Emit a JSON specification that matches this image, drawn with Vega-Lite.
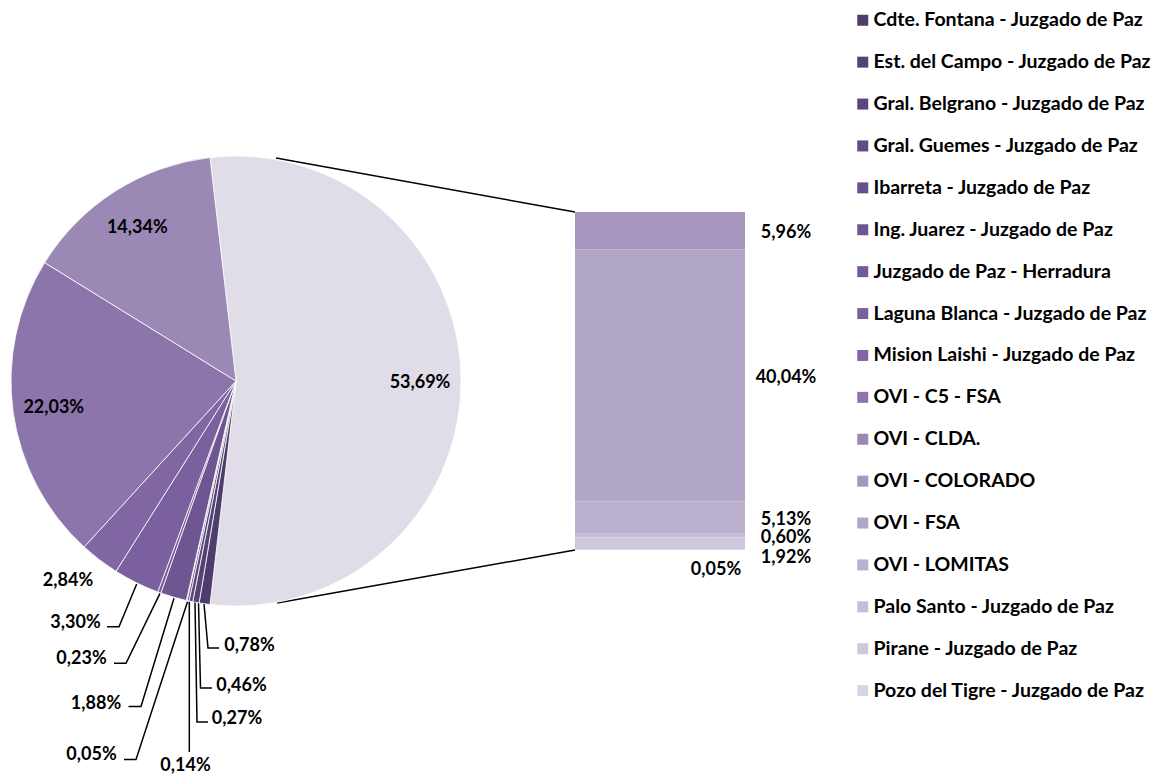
{
  "$schema": "https://vega.github.io/schema/vega-lite/v6.json",
  "width": 1168,
  "height": 775,
  "padding": 0,
  "autosize": {"type": "none"},
  "background": "white",
  "config": {
    "view": {"stroke": null},
    "locale": {"number": {"decimal": ",", "thousands": ".", "grouping": [3], "currency": ["", "%"]}},
    "text": {"font": "Lato", "fontWeight": "bold", "fontSize": 18, "color": "black", "dy": 2}
  },
  "datasets": {
    "pie": [
      {"name": "Otros", "pct": 53.69, "idx": 0},
      {"name": "Cdte. Fontana - Juzgado de Paz", "pct": 0.78, "idx": 1},
      {"name": "Est. del Campo - Juzgado de Paz", "pct": 0.46, "idx": 2},
      {"name": "Gral. Belgrano - Juzgado de Paz", "pct": 0.27, "idx": 3},
      {"name": "Gral. Guemes - Juzgado de Paz", "pct": 0.14, "idx": 4},
      {"name": "Ibarreta - Juzgado de Paz", "pct": 0.05, "idx": 5},
      {"name": "Ing. Juarez - Juzgado de Paz", "pct": 1.88, "idx": 6},
      {"name": "Juzgado de Paz - Herradura", "pct": 0.23, "idx": 7},
      {"name": "Laguna Blanca - Juzgado de Paz", "pct": 3.30, "idx": 8},
      {"name": "Mision Laishi - Juzgado de Paz", "pct": 2.84, "idx": 9},
      {"name": "OVI - C5 - FSA", "pct": 22.03, "idx": 10},
      {"name": "OVI - CLDA.", "pct": 14.34, "idx": 11}
    ],
    "bar": [
      {"name": "OVI - COLORADO", "pct": 5.96, "idx": 12},
      {"name": "OVI - FSA", "pct": 40.04, "idx": 13},
      {"name": "OVI - LOMITAS", "pct": 5.13, "idx": 14},
      {"name": "Palo Santo - Juzgado de Paz", "pct": 0.60, "idx": 15},
      {"name": "Pirane - Juzgado de Paz", "pct": 1.92, "idx": 16},
      {"name": "Pozo del Tigre - Juzgado de Paz", "pct": 0.05, "idx": 17}
    ],
    "callouts": [
      {"name": "Mision Laishi - Juzgado de Paz", "tx": 68, "ty": 579},
      {"name": "Laguna Blanca - Juzgado de Paz", "tx": 75.5, "ty": 620.5},
      {"name": "Juzgado de Paz - Herradura", "tx": 81.5, "ty": 656.5},
      {"name": "Ing. Juarez - Juzgado de Paz", "tx": 96, "ty": 701.5},
      {"name": "Ibarreta - Juzgado de Paz", "tx": 91.5, "ty": 753},
      {"name": "Gral. Guemes - Juzgado de Paz", "tx": 185.5, "ty": 764},
      {"name": "Gral. Belgrano - Juzgado de Paz", "tx": 237, "ty": 716.5},
      {"name": "Est. del Campo - Juzgado de Paz", "tx": 241.5, "ty": 684},
      {"name": "Cdte. Fontana - Juzgado de Paz", "tx": 249.5, "ty": 644}
    ],
    "leaders": [
      {"name": "Laguna Blanca", "seq": 1, "px": 136.7, "py": 584},
      {"name": "Laguna Blanca", "seq": 2, "px": 119, "py": 626.7},
      {"name": "Laguna Blanca", "seq": 3, "px": 107, "py": 626.7},
      {"name": "Herradura", "seq": 1, "px": 160, "py": 593.3},
      {"name": "Herradura", "seq": 2, "px": 126, "py": 663.3},
      {"name": "Herradura", "seq": 3, "px": 114, "py": 663.3},
      {"name": "Ing. Juarez", "seq": 1, "px": 174, "py": 598.3},
      {"name": "Ing. Juarez", "seq": 2, "px": 141, "py": 706.5},
      {"name": "Ing. Juarez", "seq": 3, "px": 128.5, "py": 706.5},
      {"name": "Ibarreta", "seq": 1, "px": 187.5, "py": 601.7},
      {"name": "Ibarreta", "seq": 2, "px": 136, "py": 759.5},
      {"name": "Ibarreta", "seq": 3, "px": 124, "py": 759.5},
      {"name": "Gral. Guemes", "seq": 1, "px": 189.3, "py": 601.7},
      {"name": "Gral. Guemes", "seq": 2, "px": 189.3, "py": 752},
      {"name": "Gral. Belgrano", "seq": 1, "px": 195, "py": 602},
      {"name": "Gral. Belgrano", "seq": 2, "px": 197, "py": 722},
      {"name": "Gral. Belgrano", "seq": 3, "px": 208, "py": 722},
      {"name": "Est. del Campo", "seq": 1, "px": 198.5, "py": 602.7},
      {"name": "Est. del Campo", "seq": 2, "px": 200.5, "py": 688},
      {"name": "Est. del Campo", "seq": 3, "px": 212, "py": 688},
      {"name": "Cdte. Fontana", "seq": 1, "px": 204, "py": 604},
      {"name": "Cdte. Fontana", "seq": 2, "px": 208, "py": 648},
      {"name": "Cdte. Fontana", "seq": 3, "px": 219, "py": 648}
    ],
    "connectors": [
      {"x0": 276, "y0": 158, "x1": 575, "y1": 212},
      {"x0": 277, "y0": 603, "x1": 575, "y1": 550}
    ]
  },
  "resolve": {"scale": {"y": "independent"}},
  "layer": [
    {
      "layer": [
        {
          "data": {"name": "connectors"},
          "mark": {"type": "rule", "color": "black", "strokeWidth": 1.5},
          "encoding": {
            "x": {"field": "x0", "type": "quantitative", "scale": {"domain": [0, 1168], "nice": false, "zero": false}, "axis": null},
            "y": {"field": "y0", "type": "quantitative", "scale": {"domain": [0, 775], "nice": false, "zero": false, "reverse": true}, "axis": null},
            "x2": {"field": "x1"},
            "y2": {"field": "y1"}
          }
        },
        {
          "data": {"name": "leaders"},
          "mark": {"type": "line", "color": "black", "strokeWidth": 1.5},
          "encoding": {
            "x": {"field": "px", "type": "quantitative", "axis": null},
            "y": {"field": "py", "type": "quantitative", "axis": null},
            "detail": {"field": "name", "type": "nominal"},
            "order": {"field": "seq", "type": "quantitative"}
          }
        },
        {
          "data": {"name": "pie"},
          "layer": [
            {
              "mark": {"type": "arc", "radius": 225, "stroke": "white", "strokeWidth": 0.8},
              "encoding": {
                "x": {"datum": 236, "type": "quantitative", "axis": null},
                "y": {"datum": 381, "type": "quantitative", "axis": null},
                "theta": {"field": "pct", "type": "quantitative", "stack": true, "scale": {"range": [-0.11577, 6.16742]}},
                "order": {"field": "idx", "type": "quantitative"},
                "color": {
                  "condition": {"test": "datum.name === 'Otros'", "value": "#e1dde8"},
                  "field": "name",
                  "type": "nominal",
                  "scale": {
                    "domain": ["Cdte. Fontana - Juzgado de Paz", "Est. del Campo - Juzgado de Paz", "Gral. Belgrano - Juzgado de Paz", "Gral. Guemes - Juzgado de Paz", "Ibarreta - Juzgado de Paz", "Ing. Juarez - Juzgado de Paz", "Juzgado de Paz - Herradura", "Laguna Blanca - Juzgado de Paz", "Mision Laishi - Juzgado de Paz", "OVI - C5 - FSA", "OVI - CLDA.", "OVI - COLORADO", "OVI - FSA", "OVI - LOMITAS", "Palo Santo - Juzgado de Paz", "Pirane - Juzgado de Paz", "Pozo del Tigre - Juzgado de Paz"],
                    "range": ["#4e3d6c", "#554275", "#5b477d", "#614c85", "#67518c", "#6d5692", "#735b98", "#7a609e", "#8166a4", "#8b75ab", "#9a88b5", "#a797bf", "#b1a6c5", "#bbb0cd", "#c5bdd6", "#cfc8dd", "#d9d4e4"]
                  },
                  "legend": {
                    "orient": "none", "legendX": 853, "legendY": 10.5, "title": null, "padding": 0,
                    "symbolType": "square", "symbolSize": 121, "symbolStrokeWidth": 0,
                    "labelFont": "Lato", "labelFontWeight": "bold", "labelFontSize": 19.5, "labelColor": "black",
                    "labelLimit": 400, "labelOffset": 1, "rowPadding": 20.9
                  }
                }
              }
            },
            {
              "mark": {"type": "text", "radius": 184},
              "encoding": {
                "x": {"datum": 236, "type": "quantitative", "axis": null},
                "y": {"datum": 381, "type": "quantitative", "axis": null},
                "theta": {"field": "pct", "type": "quantitative", "stack": true},
                "order": {"field": "idx", "type": "quantitative"},
                "text": {"condition": {"test": "datum.pct > 10", "field": "pct", "type": "quantitative", "format": "$.2f"}, "value": ""}
              }
            }
          ]
        },
        {
          "data": {"name": "callouts"},
          "transform": [{"lookup": "name", "from": {"data": {"name": "pie"}, "key": "name", "fields": ["pct"]}}],
          "mark": {"type": "text"},
          "encoding": {
            "x": {"field": "tx", "type": "quantitative", "axis": null},
            "y": {"field": "ty", "type": "quantitative", "axis": null},
            "text": {"field": "pct", "type": "quantitative", "format": "$.2f"}
          }
        }
      ]
    },
    {
      "data": {"name": "bar"},
      "layer": [
        {
          "transform": [{"stack": "pct", "groupby": [], "sort": [{"field": "idx", "order": "descending"}], "as": ["y0", "y1"]}],
          "mark": {"type": "rect"},
          "encoding": {
            "x": {"datum": 575, "type": "quantitative", "axis": null},
            "x2": {"datum": 745},
            "y": {"field": "y0", "type": "quantitative", "scale": {"domain": [0, 53.7], "range": [550, 212], "nice": false, "zero": false}, "axis": null},
            "y2": {"field": "y1"},
            "color": {"field": "name", "type": "nominal"}
          }
        },
        {
          "mark": {"type": "text", "dy": 2},
          "encoding": {
            "x": {"datum": 786, "type": "quantitative", "axis": null},
            "y": {"field": "pct", "type": "quantitative", "stack": "zero", "bandPosition": 0.5, "axis": null},
            "order": {"field": "idx", "type": "quantitative", "sort": "descending"},
            "text": {"condition": {"test": "datum.pct > 0.5 && datum.idx != 16", "field": "pct", "type": "quantitative", "format": "$.2f"}, "value": ""}
          }
        },
        {
          "mark": {"type": "text", "dy": 14},
          "encoding": {
            "x": {"datum": 786, "type": "quantitative", "axis": null},
            "y": {"field": "pct", "type": "quantitative", "stack": "zero", "bandPosition": 0.5, "axis": null},
            "order": {"field": "idx", "type": "quantitative", "sort": "descending"},
            "text": {"condition": {"test": "datum.idx == 16", "field": "pct", "type": "quantitative", "format": "$.2f"}, "value": ""}
          }
        },
        {
          "mark": {"type": "text", "dy": 20.5},
          "encoding": {
            "x": {"datum": 716, "type": "quantitative", "axis": null},
            "y": {"field": "pct", "type": "quantitative", "stack": "zero", "bandPosition": 0.5, "axis": null},
            "order": {"field": "idx", "type": "quantitative", "sort": "descending"},
            "text": {"condition": {"test": "datum.idx == 17", "field": "pct", "type": "quantitative", "format": "$.2f"}, "value": ""}
          }
        }
      ]
    }
  ]
}
